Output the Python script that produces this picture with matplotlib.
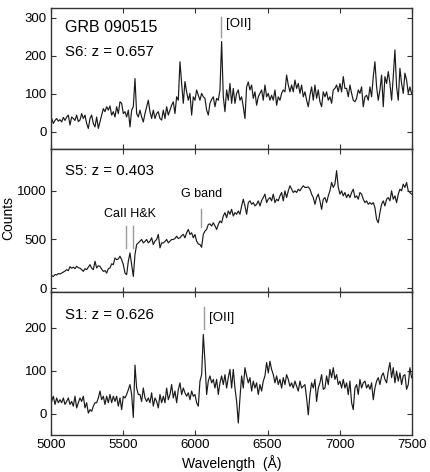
import numpy as np
import matplotlib
matplotlib.use("Agg")
import matplotlib.pyplot as plt

plt.rcParams["font.family"] = ["Liberation Sans", "DejaVu Sans"]

# spectra sampled on a regular wavelength grid (Angstrom)
WL_START = 5004.6
WL_STEP = 11.54

S6_COUNTS = [
    35, 22, 30, 35, 28, 32, 26, 38, 30, 39,
    44, 18, 39, 35, 30, 44, 27, 31, 48, 35,
    44, 22, 9, 35, 44, 22, 13, 39, 9, 26,
    44, 61, 53, 66, 57, 68, 44, 53, 39, 66,
    48, 79, 75, 48, 53, 39, 57, 13, 57, 66,
    140, 48, 39, 57, 39, 26, 48, 66, 83, 53,
    35, 57, 35, 48, 53, 35, 31, 57, 35, 66,
    44, 57, 70, 79, 48, 92, 83, 184, 127, 75,
    132, 105, 83, 101, 44, 92, 83, 110, 96, 83,
    101, 92, 88, 57, 44,
    75, 85, 92, 66, 88, 83, 110, 237, 92, 53,
    110, 83, 127, 75, 114, 75, 101, 110, 83, 92,
    66, 35, 118, 131, 110, 123, 88, 105, 70, 92,
    101, 110, 83, 123, 92, 101, 83, 96, 83, 110,
    70, 92, 83, 101, 110, 105, 149, 123, 105, 123,
    105, 136, 114, 127, 101, 123, 92, 105, 83, 66,
    96, 118, 83, 123, 88, 110, 79, 66, 105, 92,
    105, 83, 92, 75, 110, 114, 123, 105, 127, 105,
    145, 114, 114, 92, 123, 101, 83, 79, 88, 110,
    101, 118, 66, 92, 96, 83, 118, 92, 145, 184,
    118, 83, 110, 149, 66, 145, 127, 158, 127, 83,
    145, 215, 118, 83, 167, 127, 101, 154, 136, 101,
    118, 101,
]

S5_COUNTS = [
    128, 120, 140, 135, 150, 145, 155, 165, 175, 190,
    180, 220, 205, 215, 200, 224, 210, 205, 190, 172,
    200, 190, 215, 241, 205, 190, 276, 207, 230, 224,
    195, 172, 180, 155, 200, 207, 250, 241, 310, 293,
    300, 328, 293, 241, 155, 138, 276, 362, 241, 120,
    345, 448, 465, 483, 500, 465, 480, 500, 465, 483,
    517, 448, 483, 500, 552, 414, 465, 465, 480, 500,
    465, 483, 500, 500, 510, 534, 510, 517, 540, 552,
    517, 569, 603, 552, 569, 517, 552, 483, 455, 448,
    420, 552, 586, 603, 655,
    660, 638, 672, 640, 603, 655, 690, 672, 741, 776,
    724, 793, 759, 810, 741, 776, 759, 793, 759, 845,
    914, 845, 759, 879, 897, 862, 879, 845, 862, 897,
    845, 900, 931, 966, 879, 914, 931, 897, 966, 879,
    914, 897, 948, 983, 897, 1000, 931, 1000, 1052, 1017,
    983, 1000, 983, 1017, 1000, 1030, 1052, 1035, 1035, 1040,
    1017, 966, 931, 862, 931, 966, 897, 810, 914, 931,
    879, 948, 1000, 1086, 1035, 1069, 1207, 1035, 966, 1000,
    948, 983, 931, 966, 931, 983, 1017, 931, 948, 914,
    983, 966, 914, 879, 897, 862, 879, 862, 879, 828,
    707, 672, 776, 862, 897, 845, 914, 931, 897, 1000,
    914, 948, 879, 966, 1017, 1000, 1069, 1035, 1086, 1000,
    983, 966,
]

S1_COUNTS = [
    29, 41, 22, 37, 26, 33, 26, 37, 22, 29,
    37, 22, 29, 18, 41, 14, 26, 37, 29, 41,
    14, 26, 2, 10, 6, 18, 26, 26, 37, 53,
    33, 41, 22, 41, 26, 45, 26, 41, 29, 41,
    18, 37, 10, 41, 37, 45, 56, 68, 45, -8,
    113, 60, 45, 45, 29, 60, 37, 29, 37, 26,
    49, 18, 37, 29, 14, 45, 26, 41, 26, 60,
    33, 45, 68, 37, 53, 26, 56, 72, 45, 60,
    49, 41, 49, 33, 53, 41, 45, 26, 18, 76,
    91, 184, 122, 45, 76,
    88, 72, 80, 60, 80, 45, 72, 88, 68, 91,
    60, 84, 103, 60, 103, 60, 29, -21, 37, 88,
    60, 107, 88, 72, 84, 53, 76, 60, 72, 45,
    68, 53, 76, 88, 119, 95, 122, 103, 91, 72,
    88, 68, 80, 60, 84, 68, 91, 80, 64, 72,
    60, 76, 64, 53, 76, 60, 64, 68, 37, -2,
    45, 72, 60, 80, 29, 60, 72, 91, 57, 60,
    88, 68, 103, 84, 107, 80, 91, 68, 76, 60,
    80, 60, 72, 45, 76, 26, 10, 60, 68, 45,
    80, 60, 72, 76, 60, 68, 57, 72, 33, 60,
    76, 84, 68, 88, 95, 80, 72, 99, 119, 84,
    107, 72, 99, 76, 95, 68, 88, 91, 57, 68,
    107, 84,
]

X_TICKS = [5000, 5500, 6000, 6500, 7000, 7500]
S6_YTICKS = [0, 100, 200, 300]
S5_YTICKS = [0, 500, 1000]
S1_YTICKS = [0, 100, 200]

LINE_GRAY = "#9a9a9a"
SPINE = "#333333"


def style_axes(ax, yticks, ylim, show_x):
    ax.set_xlim(5000, 7500)
    ax.set_ylim(*ylim)
    ax.set_xticks(X_TICKS)
    ax.set_yticks(yticks)
    ax.tick_params(direction="in", top=True, right=True, length=3.5, width=0.8,
                   color=SPINE, labelsize=9.5, pad=3)
    if not show_x:
        ax.tick_params(labelbottom=False)
    for sp in ax.spines.values():
        sp.set_color(SPINE)
        sp.set_linewidth(1.0)


def draw_spectrum(ax, counts):
    wl = WL_START + WL_STEP * np.arange(len(counts))
    ax.plot(wl, counts, color="#1a1a1a", linewidth=0.85)


fig = plt.figure(figsize=(4.3, 4.72), dpi=100)
ax6 = fig.add_axes([0.1186, 0.6843, 0.8395, 0.2987])
ax5 = fig.add_axes([0.1186, 0.3803, 0.8395, 0.3040])
ax1 = fig.add_axes([0.1186, 0.0790, 0.8395, 0.3013])

draw_spectrum(ax6, S6_COUNTS)
style_axes(ax6, S6_YTICKS, (-45, 325), False)
ax6.text(5100, 275, "GRB 090515", fontsize=11.5, va="center")
ax6.text(5100, 210, "S6: z = 0.657", fontsize=10.8, va="center")
ax6.plot([6176, 6176], [249, 302], color=LINE_GRAY, linewidth=1.0)
ax6.text(6215, 282, "[OII]", fontsize=9.5, va="center")

draw_spectrum(ax5, S5_COUNTS)
style_axes(ax5, S5_YTICKS, (-45, 1430), False)
ax5.text(5100, 1205, "S5: z = 0.403", fontsize=10.8, va="center")
ax5.text(5550, 760, "CaII H&K", fontsize=9, ha="center", va="center")
for lam in (5519, 5569):
    ax5.plot([lam, lam], [414, 638], color=LINE_GRAY, linewidth=1.0)
ax5.text(6040, 966, "G band", fontsize=9, ha="center", va="center")
ax5.plot([6039, 6039], [624, 810], color=LINE_GRAY, linewidth=1.0)
fig.text(8 / 430, 1 - 218 / 472, "Counts", rotation=90, fontsize=10,
         ha="center", va="center")

draw_spectrum(ax1, S1_COUNTS)
style_axes(ax1, S1_YTICKS, (-48, 281), True)
ax1.text(5100, 228, "S1: z = 0.626", fontsize=10.8, va="center")
ax1.plot([6059, 6059], [196, 247], color=LINE_GRAY, linewidth=1.0)
ax1.text(6095, 222, "[OII]", fontsize=9.5, va="center")
ax1.set_xlabel("Wavelength  (Å)", fontsize=10, labelpad=3)

fig.savefig("out.png", dpi=100)
